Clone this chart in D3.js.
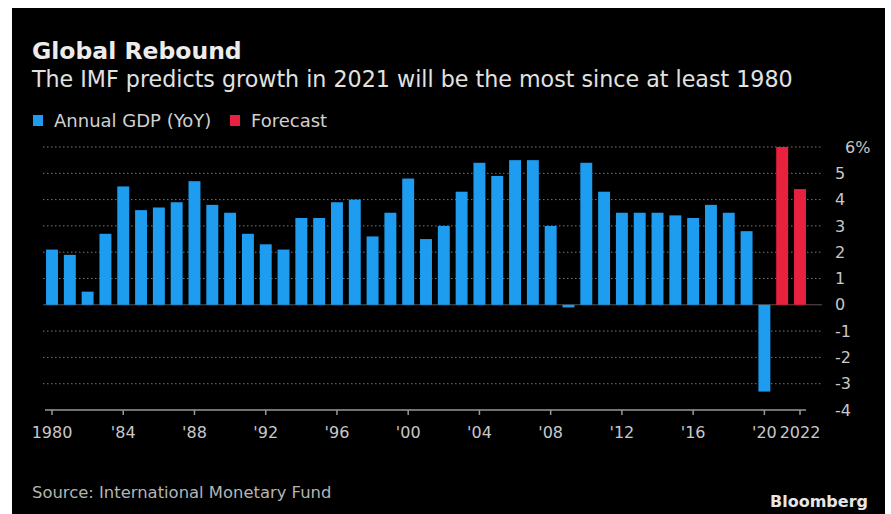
<!DOCTYPE html>
<html>
<head>
<meta charset="utf-8">
<script src="https://cdn.jsdelivr.net/npm/d3@7"></script>
<style>
  body { margin: 0; background: #fff; }
  svg { display: block; }
</style>
</head>
<body>
<svg id="chart"></svg>
<script>
    // years and IMF world GDP growth, % yoy
    var years = d3.range(1980, 2023);
    var gdp = [2.1, 1.9, 0.5, 2.7, 4.5, 3.6, 3.7, 3.9, 4.7, 3.8,
               3.5, 2.7, 2.3, 2.1, 3.3, 3.3, 3.9, 4.0, 2.6, 3.5,
               4.8, 2.5, 3.0, 4.3, 5.4, 4.9, 5.5, 5.5, 3.0, -0.1,
               5.4, 4.3, 3.5, 3.5, 3.5, 3.4, 3.3, 3.8, 3.5, 2.8,
               -3.3, 6.0, 4.4];
    var forecastYears = [2021, 2022];
    var xTicks = [1980, 1984, 1988, 1992, 1996, 2000, 2004, 2008, 2012, 2016, 2020, 2022];
    var xTickLabels = ["1980", "'84", "'88", "'92", "'96", "'00", "'04", "'08", "'12", "'16", "'20", "2022"];
    var yTicks = [6, 5, 4, 3, 2, 1, 0, -1, -2, -3, -4];

    var W = 891, H = 514;
    var blue = "#1e9cf0", red = "#e8213f";
    var font = "'DejaVu Sans', sans-serif";

    var svg = d3.select("#chart").attr("width", W).attr("height", H);

    // black card with white margins like the screenshot
    svg.append("rect").attr("x", 12).attr("y", 8).attr("width", 873).attr("height", H - 8)
        .attr("fill", "#000");

    var x = d3.scaleBand().domain(years).range([43.1, 808.9])
        .paddingInner(0.33).paddingOuter(0.165);
    var y = d3.scaleLinear().domain([-4, 6]).range([410, 147]);

    // dotted grid
    svg.append("g").selectAll("line")
        .data(yTicks.filter(d => d > -4))
        .enter().append("line")
        .attr("x1", 43).attr("x2", 822)
        .attr("y1", d => y(d)).attr("y2", d => y(d))
        .attr("stroke", d => d === 0 ? "#5e5046" : "#777")
        .attr("stroke-width", 1)
        .attr("stroke-dasharray", d => d === 0 ? null : "1.5,2.5");

    // bars
    var rows = years.map((yr, i) => ({ year: yr, value: gdp[i] }));
    svg.append("g").selectAll("rect")
        .data(rows)
        .enter().append("rect")
        .attr("x", d => x(d.year))
        .attr("width", x.bandwidth())
        .attr("y", d => y(Math.max(0, d.value)))
        .attr("height", d => Math.abs(y(d.value) - y(0)))
        .attr("fill", d => forecastYears.indexOf(d.year) >= 0 ? red : blue);

    // x axis
    var xAxis = d3.axisBottom(x)
        .tickValues(xTicks)
        .tickFormat((d, i) => xTickLabels[i])
        .tickSizeInner(5).tickSizeOuter(0).tickPadding(12);
    var gx = svg.append("g").attr("transform", "translate(0," + y(-4) + ")").call(xAxis);
    gx.select(".domain").attr("stroke", "#999").attr("stroke-width", 1.5)
        .attr("d", "M45,0H806");
    gx.selectAll(".tick line").attr("stroke", "#999").attr("stroke-width", 1.5);
    gx.selectAll(".tick text").attr("fill", "#c8c8c8")
        .style("font-family", font).style("font-size", "16px");

    // y labels on the right
    svg.append("g").selectAll("text")
        .data(yTicks)
        .enter().append("text")
        .attr("x", d => d === 6 ? 845 : 835)
        .attr("y", d => y(d))
        .attr("dy", "0.35em")
        .attr("fill", "#c8c8c8")
        .style("font-family", font).style("font-size", "16px")
        .text(d => d === 6 ? "6%" : d);

    // headings
    svg.append("text").attr("x", 32).attr("y", 59)
        .attr("fill", "#ececec").style("font-family", font)
        .style("font-size", "23.5px").style("font-weight", "bold")
        .text("Global Rebound");
    svg.append("text").attr("x", 32).attr("y", 87)
        .attr("fill", "#e2e2e2").style("font-family", font).style("font-size", "22.2px")
        .text("The IMF predicts growth in 2021 will be the most since at least 1980");

    // legend
    var legend = [
        { label: "Annual GDP (YoY)", color: blue, x: 33 },
        { label: "Forecast", color: red, x: 230 }
    ];
    var lg = svg.append("g").selectAll("g").data(legend).enter().append("g")
        .attr("transform", d => "translate(" + d.x + ",115)");
    lg.append("rect").attr("width", 10).attr("height", 11).attr("fill", d => d.color);
    lg.append("text").attr("x", 21).attr("y", 12)
        .attr("fill", "#d0d0d0").style("font-family", font).style("font-size", "18px")
        .text(d => d.label);

    // footer
    svg.append("text").attr("x", 32).attr("y", 498)
        .attr("fill", "#b4b4b4").style("font-family", font).style("font-size", "16.4px")
        .text("Source: International Monetary Fund");
    svg.append("text").attr("x", 868).attr("y", 507).attr("text-anchor", "end")
        .attr("fill", "#e6e6e6").style("font-family", font)
        .style("font-size", "16px").style("font-weight", "bold")
        .text("Bloomberg");
</script>
</body>
</html>
